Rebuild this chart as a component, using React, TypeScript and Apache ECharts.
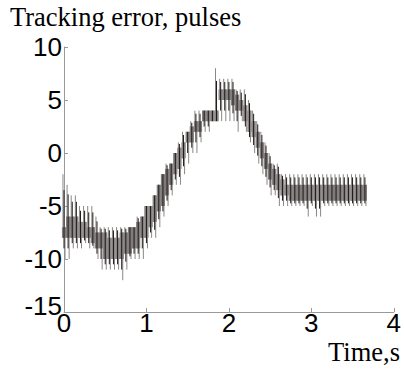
import React, { useEffect, useRef } from "react";
import * as echarts from "echarts";

const times = [
  0.0, 0.05, 0.1, 0.15, 0.2, 0.25, 0.3, 0.35, 0.4, 0.45,
  0.5, 0.55, 0.6, 0.65, 0.7, 0.75, 0.8, 0.85, 0.9, 0.95,
  1.0, 1.05, 1.1, 1.15, 1.2, 1.25, 1.3, 1.35, 1.4, 1.45,
  1.5, 1.55, 1.6, 1.65, 1.7, 1.75, 1.8, 1.85, 1.9, 1.95,
  2.0, 2.05, 2.1, 2.15, 2.2, 2.25, 2.3, 2.35, 2.4, 2.45,
  2.5, 2.55, 2.6, 2.65, 2.7, 2.75, 2.8, 2.85, 2.9, 2.95,
  3.0, 3.05, 3.1, 3.15, 3.2, 3.25, 3.3, 3.35, 3.4, 3.45,
  3.5, 3.55, 3.6, 3.65,
];

// extremes of the oscillation (thin lines)
const outerHigh = [
  -2, -3, -4, -4, -5, -5, -5, -5, -6, -7,
  -7, -7, -7, -7, -7, -7, -7, -7, -6, -6,
  -5, -5, -4, -3, -2, -1, -1, 0, 1, 2,
  2, 3, 4, 4, 4, 4, 4, 8, 7, 7,
  7, 7, 6, 6, 6, 5, 4, 3, 2, 1,
  0, -1, -1, -2, -2, -2, -2, -2, -2, -2,
  -2, -2, -2, -2, -2, -2, -2, -2, -2, -2,
  -2, -2, -2, -2,
];
const outerLow = [
  -10, -10, -9, -9, -9, -8.5, -9, -9, -10, -11,
  -11, -11, -11, -11, -12, -11, -10, -10, -10, -10,
  -9, -8, -8, -7, -6, -5, -4, -3, -3, -2,
  -1, 0, 0, 1, 2, 2, 3, 3, 3, 3,
  3, 3, 2, 3, 2, 1, 0, -1, -2, -3,
  -4, -4, -5, -5, -5, -5, -5, -5, -5, -6,
  -5, -6, -6, -5, -5, -5, -5, -5, -5, -5,
  -5, -5, -5, -5,
];
// dense band where the error mostly dwells
const bandHigh = [
  -7, -6, -6, -6, -6.5, -6.5, -7, -7, -7.5, -7.5,
  -7.5, -8, -8, -8, -7.5, -7.5, -7, -7, -6.5, -6,
  -5, -5, -4, -3, -2, -1.5, -1, 0, 0.5, 1,
  2, 2.5, 3, 3, 4, 4, 4, 4, 6, 6,
  6, 6, 5.5, 5, 4.5, 4, 3, 2, 1, 0,
  -1, -1.5, -2, -2.5, -3, -3, -3, -3, -3, -3,
  -3, -3, -3, -3, -3, -3, -3, -3, -3, -3,
  -3, -3, -3, -3,
];
const bandLow = [
  -8, -8, -8, -8, -8, -8, -8, -8.5, -9, -9,
  -10, -10, -10, -10, -10, -9.5, -9.5, -9, -9, -8,
  -8, -7, -6.5, -5.5, -5, -4, -3, -2, -1.5, -0.5,
  1, 1, 2, 2, 3, 3, 3, 3, 5, 5,
  5, 4.5, 4, 4, 3, 2, 1.5, 0.5, -0.5, -1.5,
  -2.5, -3, -3.5, -4, -4, -4.5, -4.5, -4.5, -4.5, -4.5,
  -4.5, -4.5, -4.5, -4.5, -4.5, -4.5, -4.5, -4.5, -4.5, -4.5,
  -4.5, -4.5, -4.5, -4.5,
];

const SAMPLE_STEP = 0.05;

export default function App() {
  const ref = useRef<HTMLDivElement>(null);
  useEffect(() => {
    if (!ref.current) return;
    const chart = echarts.init(ref.current, null, { renderer: "svg" });
    const data = times.map((t, i) => [t, outerLow[i], outerHigh[i], bandLow[i], bandHigh[i]]);
    chart.setOption({
      animation: false,
      backgroundColor: "#ffffff",
      grid: { left: 64, right: 6, top: 47, bottom: 57, containLabel: false },
      xAxis: {
        type: "value",
        min: 0,
        max: 4,
        interval: 1,
        axisLine: { show: true, onZero: false, lineStyle: { color: "#9a9a9a", width: 1 } },
        axisTick: { show: true, inside: true, length: 4, lineStyle: { color: "#9a9a9a" } },
        splitLine: { show: false },
        axisLabel: { color: "#000", fontSize: 26, fontFamily: "Liberation Sans", margin: -2 },
      },
      yAxis: {
        type: "value",
        min: -15,
        max: 10,
        interval: 5,
        axisLine: { show: true, onZero: false, lineStyle: { color: "#9a9a9a", width: 1 } },
        axisTick: { show: true, inside: true, length: 4, lineStyle: { color: "#9a9a9a" } },
        splitLine: { show: false },
        axisLabel: {
          color: "#000",
          fontSize: 26,
          fontFamily: "Liberation Sans",
          margin: 2,
          formatter: (v: number) => (v === -15 ? "{low|-15}" : String(v)),
          rich: { low: { fontSize: 26, fontFamily: "Liberation Sans", color: "#000", padding: [0, 0, 12, 0] } },
        },
      },
      graphic: [
        {
          type: "text",
          left: 10,
          top: 3,
          style: { text: "Tracking error, pulses", fontSize: 26.5, fontFamily: "Liberation Serif", fill: "#000" },
        },
        {
          type: "text",
          right: 4,
          top: 338,
          style: { text: "Time,s", fontSize: 26.5, fontFamily: "Liberation Serif", fill: "#000" },
        },
      ],
      series: [
        {
          type: "custom",
          data,
          encode: { x: 0, y: [1, 2, 3, 4] },
          clip: false,
          renderItem: (params: any, api: any) => {
            const t = api.value(0);
            const top = api.coord([t, api.value(2)]);
            const bottom = api.coord([t, api.value(1)]);
            const bTop = api.coord([t, api.value(4)]);
            const bBot = api.coord([t, api.value(3)]);
            const w = api.size([SAMPLE_STEP, 0])[0];
            const xl = top[0] - w / 4;
            const xr = top[0] + w / 4;
            return {
              type: "group",
              children: [
                {
                  type: "rect",
                  shape: { x: bTop[0] - w / 2, y: bTop[1], width: w, height: bBot[1] - bTop[1] },
                  style: { fill: "#777171" },
                },
                {
                  type: "line",
                  shape: { x1: xl, y1: top[1], x2: xl, y2: bBot[1] },
                  style: { stroke: "#8c8787", lineWidth: 1 },
                },
                {
                  type: "line",
                  shape: { x1: xr, y1: bTop[1], x2: xr, y2: bottom[1] },
                  style: { stroke: "#8c8787", lineWidth: 1 },
                },
                {
                  type: "line",
                  shape: { x1: top[0], y1: top[1] + (bTop[1] - top[1]) * 0.3, x2: top[0], y2: bBot[1] + (bottom[1] - bBot[1]) * 0.5 },
                  style: { stroke: "#1e1a1a", lineWidth: 1 },
                },
              ],
            };
          },
        },
      ],
    });
    return () => chart.dispose();
  }, []);
  return (
    <div
      ref={ref}
      style={{ position: "fixed", left: 0, top: 0, width: 404, height: 369 }}
    />
  );
}
